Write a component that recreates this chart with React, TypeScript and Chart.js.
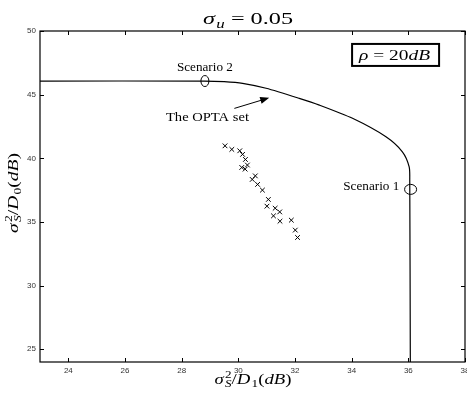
import React, { useEffect, useRef } from 'react';
import { Chart, registerables } from 'chart.js';

Chart.register(...registerables);

const xTicks = [24, 26, 28, 30, 32, 34, 36, 38];
const yTicks = [25, 30, 35, 40, 45, 50];

const optaX = [23, 28.8, 29.5, 30.15, 30.98, 32.15, 32.86, 34.03, 35.21, 35.79, 36.03, 36.05, 36.07];
const optaY = [46.07, 46.07, 46.02, 45.89, 45.5, 44.71, 44.18, 43.14, 41.69, 40.51, 39.33, 38.29, 24];

const crossX = [29.53, 29.77, 30.05, 30.15, 30.25, 30.12, 30.24, 30.32, 30.6, 30.49, 30.68, 30.85, 31.06, 31.01, 31.3, 31.46, 31.24, 31.47, 31.87, 32.01, 32.09];
const crossY = [40.98, 40.7, 40.59, 40.31, 39.91, 39.28, 39.15, 39.47, 38.62, 38.34, 37.95, 37.5, 36.77, 36.24, 36.08, 35.79, 35.48, 35.06, 35.14, 34.36, 33.78];

const scenarioNames = ['Scenario 1', 'Scenario 2'];
const scenarioX = [36.08, 28.82];
const scenarioY = [37.56, 46.07];

const SERIF = '"Liberation Serif", "DejaVu Serif", serif';
const SANS = '"Liberation Sans", Arial, sans-serif';

type Tok = { t: string; it?: boolean; sup?: string; sub?: string; subIt?: boolean };

function fontStr(size: number, it?: boolean) {
  return `${it ? 'italic ' : ''}${size}px ${SERIF}`;
}

function mathWidth(ctx: CanvasRenderingContext2D, toks: Tok[], size: number) {
  let w = 0;
  const small = size * 0.7;
  for (const k of toks) {
    ctx.font = fontStr(size, k.it);
    w += ctx.measureText(k.t).width;
    let sw = 0;
    if (k.sup) { ctx.font = fontStr(small, false); sw = Math.max(sw, ctx.measureText(k.sup).width); }
    if (k.sub) { ctx.font = fontStr(small, k.subIt); sw = Math.max(sw, ctx.measureText(k.sub).width); }
    w += sw ? sw + 1 : 0;
  }
  return w;
}

function drawMath(ctx: CanvasRenderingContext2D, toks: Tok[], cx: number, baseY: number, size: number, targetW?: number) {
  const small = size * 0.7;
  const w = mathWidth(ctx, toks, size);
  const s = targetW ? targetW / w : 1;
  ctx.save();
  ctx.translate(cx, baseY);
  ctx.scale(s, 1);
  let x = -w / 2;
  ctx.textBaseline = 'alphabetic';
  ctx.textAlign = 'left';
  for (const k of toks) {
    ctx.font = fontStr(size, k.it);
    ctx.fillText(k.t, x, 0);
    x += ctx.measureText(k.t).width;
    let sw = 0;
    if (k.sup) {
      ctx.font = fontStr(small, false);
      ctx.fillText(k.sup, x + 1, -size * 0.4);
      sw = Math.max(sw, ctx.measureText(k.sup).width);
    }
    if (k.sub) {
      ctx.font = fontStr(small, k.subIt);
      ctx.fillText(k.sub, x + 1, size * 0.22);
      sw = Math.max(sw, ctx.measureText(k.sub).width);
    }
    x += sw ? sw + 1 : 0;
  }
  ctx.restore();
}

function drawFitted(ctx: CanvasRenderingContext2D, text: string, size: number, x: number, y: number, targetW: number, align: 'left' | 'center' | 'right') {
  ctx.save();
  ctx.font = `${size}px ${SERIF}`;
  const w = ctx.measureText(text).width;
  const s = targetW / w;
  const left = align === 'left' ? x : align === 'center' ? x - targetW / 2 : x - targetW;
  ctx.translate(left, y);
  ctx.scale(s, 1);
  ctx.textAlign = 'left';
  ctx.textBaseline = 'middle';
  ctx.fillText(text, 0, 0);
  ctx.restore();
}

const titleToks: Tok[] = [{ t: 'σ', it: true, sub: 'u', subIt: true }, { t: ' = 0.05' }];
const xLabelToks: Tok[] = [
  { t: 'σ', it: true, sup: '2', sub: 'S', subIt: true }, { t: '/' }, { t: 'D', it: true, sub: '1' },
  { t: '(' }, { t: 'dB', it: true }, { t: ')' },
];
const yLabelToks: Tok[] = [
  { t: 'σ', it: true, sup: '2', sub: 'S', subIt: true }, { t: '/' }, { t: 'D', it: true, sub: '0' },
  { t: '(' }, { t: 'dB', it: true }, { t: ')' },
];
const rhoToks: Tok[] = [{ t: 'ρ', it: true }, { t: ' = 20' }, { t: 'dB', it: true }];

const decorPlugin = {
  id: 'decor',
  afterDraw(chart: any) {
    const ctx: CanvasRenderingContext2D = chart.ctx;
    const { left, right, top, bottom } = chart.chartArea;
    const xs = chart.scales.x;
    const ys = chart.scales.y;
    ctx.save();
    ctx.fillStyle = '#000';
    ctx.strokeStyle = '#000';

    // frame
    ctx.lineWidth = 1.2;
    ctx.strokeRect(left, top, right - left, bottom - top);
    // inward ticks
    ctx.lineWidth = 1;
    ctx.beginPath();
    for (const v of xTicks) {
      const px = Math.round(xs.getPixelForValue(v)) + 0.5;
      ctx.moveTo(px, bottom); ctx.lineTo(px, bottom - 4);
      ctx.moveTo(px, top); ctx.lineTo(px, top + 4);
    }
    for (const v of yTicks) {
      const py = Math.round(ys.getPixelForValue(v)) + 0.5;
      ctx.moveTo(left, py); ctx.lineTo(left + 4, py);
      ctx.moveTo(right, py); ctx.lineTo(right - 4, py);
    }
    ctx.stroke();

    // title
    drawMath(ctx, titleToks, 248, 24, 17, 90);
    // x label
    drawMath(ctx, xLabelToks, 253, 384, 15, 77);
    // y label
    ctx.save();
    ctx.translate(18, 193);
    ctx.rotate(-Math.PI / 2);
    drawMath(ctx, yLabelToks, 0, 0, 15, 80);
    ctx.restore();

    // scenario ellipses
    ctx.lineWidth = 1;
    const sizes = [[6, 5], [4, 5.5]];
    scenarioNames.forEach((_, i) => {
      const px = xs.getPixelForValue(scenarioX[i]);
      const py = ys.getPixelForValue(scenarioY[i]);
      ctx.beginPath();
      ctx.ellipse(px, py, sizes[i][0], sizes[i][1], 0, 0, Math.PI * 2);
      ctx.stroke();
    });

    // annotation texts
    drawFitted(ctx, scenarioNames[0], 12.5, xs.getPixelForValue(35.68), ys.getPixelForValue(37.76), 56, 'right');
    drawFitted(ctx, scenarioNames[1], 12.5, xs.getPixelForValue(28.82), ys.getPixelForValue(47.12), 56, 'center');
    drawFitted(ctx, 'The OPTA set', 12.5, xs.getPixelForValue(28.91), ys.getPixelForValue(43.16), 83, 'center');

    // arrow
    const tx = xs.getPixelForValue(29.86), ty = ys.getPixelForValue(43.92);
    const hx = xs.getPixelForValue(31.09), hy = ys.getPixelForValue(44.75);
    const ang = Math.atan2(hy - ty, hx - tx);
    ctx.beginPath();
    ctx.moveTo(tx, ty);
    ctx.lineTo(hx - 6 * Math.cos(ang), hy - 6 * Math.sin(ang));
    ctx.stroke();
    ctx.beginPath();
    ctx.moveTo(hx, hy);
    ctx.lineTo(hx - 9 * Math.cos(ang) + 3.5 * Math.sin(ang), hy - 9 * Math.sin(ang) - 3.5 * Math.cos(ang));
    ctx.lineTo(hx - 9 * Math.cos(ang) - 3.5 * Math.sin(ang), hy - 9 * Math.sin(ang) + 3.5 * Math.cos(ang));
    ctx.closePath();
    ctx.fill();

    // rho box
    const bcx = xs.getPixelForValue(35.55);
    const bcy = ys.getPixelForValue(48.12);
    ctx.lineWidth = 2;
    ctx.strokeRect(bcx - 43.5, bcy - 11, 87, 22);
    drawMath(ctx, rhoToks, bcx - 1, bcy + 5, 15, 71);

    ctx.restore();
  },
};

export default function App() {
  const ref = useRef<HTMLCanvasElement | null>(null);
  useEffect(() => {
    document.body.style.margin = '0';
    document.body.style.overflow = 'hidden';
    const canvas = ref.current!;
    const chart = new Chart(canvas, {
      type: 'scatter',
      data: {
        datasets: [
          {
            type: 'line',
            data: optaX.map((x, i) => ({ x, y: optaY[i] })),
            borderColor: '#000',
            borderWidth: 1.2,
            pointRadius: 0,
            tension: 0.25,
            fill: false,
          } as any,
          {
            type: 'scatter',
            data: crossX.map((x, i) => ({ x, y: crossY[i] })),
            pointStyle: 'crossRot',
            pointRadius: 3.3,
            borderColor: '#000',
            borderWidth: 1,
            backgroundColor: '#000',
          } as any,
        ],
      },
      options: {
        responsive: false,
        animation: false,
        layout: { padding: { top: 31, right: 12, left: 0, bottom: 0 } },
        plugins: { legend: { display: false }, title: { display: false }, tooltip: { enabled: false } },
        scales: {
          x: {
            type: 'linear',
            min: 23,
            max: 38,
            afterBuildTicks: (s: any) => { s.ticks = xTicks.map((v) => ({ value: v })); },
            afterFit: (s: any) => { s.height = 33; s.paddingLeft = 0; s.paddingRight = 0; },
            grid: { display: false, drawTicks: false },
            border: { display: false },
            ticks: { font: { family: SANS, size: 8 }, color: '#333', padding: 4, maxRotation: 0, autoSkip: false },
          },
          y: {
            type: 'linear',
            min: 24,
            max: 50,
            afterBuildTicks: (s: any) => { s.ticks = yTicks.map((v) => ({ value: v })); },
            afterFit: (s: any) => { s.width = 40; s.paddingTop = 0; s.paddingBottom = 0; },
            grid: { display: false, drawTicks: false },
            border: { display: false },
            ticks: { font: { family: SANS, size: 8 }, color: '#333', padding: 4, autoSkip: false },
          },
        },
      },
      plugins: [decorPlugin],
    });
    return () => chart.destroy();
  }, []);
  return <canvas ref={ref} width={477} height={395} style={{ display: 'block' }} />;
}
